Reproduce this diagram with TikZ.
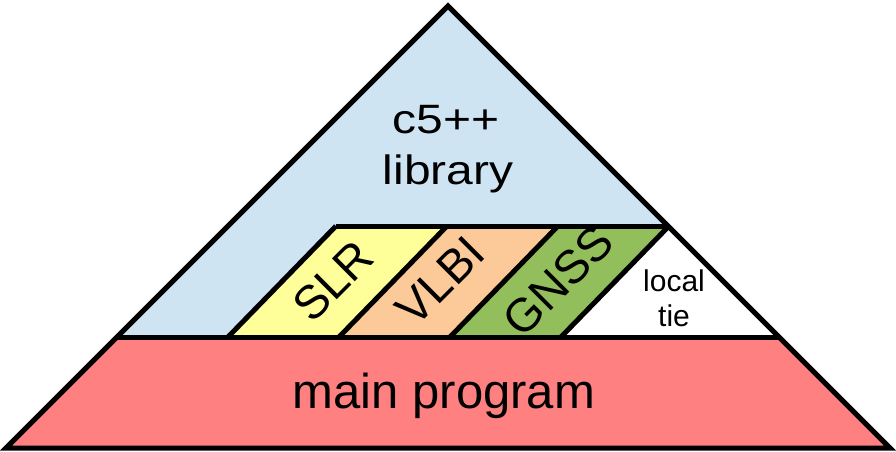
\documentclass[tikz,border=0pt]{standalone}
\usepackage{fontspec}
\setmainfont{Liberation Sans}
\definecolor{libblue}{RGB}{207,228,242}
\definecolor{mainred}{RGB}{255,128,128}
\definecolor{slryel}{RGB}{255,255,153}
\definecolor{vlbior}{RGB}{252,201,152}
\definecolor{gnssgr}{RGB}{146,190,92}
\tikzset{
  edge/.style={line width=5pt, line join=miter, draw=black},
  bigtxt/.style={font=\fontsize{49}{52}\selectfont, inner sep=0pt, text=black},
  libtxt/.style={font=\fontsize{41}{44}\selectfont, inner sep=0pt, text=black, xscale=1.17},
  lbltxt/.style={font=\fontsize{47}{50}\selectfont, inner sep=0pt, text=black, rotate=45},
  smalltxt/.style={font=\fontsize{30}{32}\selectfont, inner sep=0pt, text=black}
}
\begin{document}
\begin{tikzpicture}[x=1pt,y=-1pt]
\useasboundingbox (0,0) rectangle (896,451);
% coordinates
\coordinate (apex) at (448,6);
\coordinate (bl) at (6,448);
\coordinate (br) at (890,448);
\coordinate (ml) at (116,337);
\coordinate (mr) at (780,337);
\coordinate (b0) at (228,337);
\coordinate (b1) at (339,337);
\coordinate (b2) at (450,337);
\coordinate (b3) at (561,337);
\coordinate (t0) at (336,226);
\coordinate (t1) at (447,226);
\coordinate (t2) at (558,226);
\coordinate (t3) at (669,226);
% fills
\fill[libblue] (apex) -- (bl) -- (br) -- cycle;
\fill[mainred] (ml) -- (mr) -- (br) -- (bl) -- cycle;
\fill[slryel] (b0) -- (t0) -- (t1) -- (b1) -- cycle;
\fill[vlbior] (b1) -- (t1) -- (t2) -- (b2) -- cycle;
\fill[gnssgr] (b2) -- (t2) -- (t3) -- (b3) -- cycle;
\fill[white] (b3) -- (t3) -- (mr) -- cycle;
% outlines
\draw[edge] (apex) -- (bl) -- (br) -- cycle;
\draw[edge] (ml) -- (mr);
\draw[edge] (t0) -- (t3);
\draw[edge] (b0) -- (t0);
\draw[edge] (b1) -- (t1);
\draw[edge] (b2) -- (t2);
\draw[edge] (b3) -- (t3);
% texts
\node[libtxt, anchor=base] (c5) at (446,133) {c5++};
\node[libtxt, anchor=base] (lib) at (448,184) {library};
\node[bigtxt, anchor=base] (mainp) at (444,408) {main program};
\node[lbltxt] (slr) at (333,281) {SLR};
\node[lbltxt] (vlbi) at (440,281) {VLBI};
\node[lbltxt] (gnss) at (558,281) {GNSS};
\node[smalltxt, anchor=base] (loc) at (674,291) {local};
\node[smalltxt, anchor=base] (tie) at (674,326) {tie};
\end{tikzpicture}
\end{document}
